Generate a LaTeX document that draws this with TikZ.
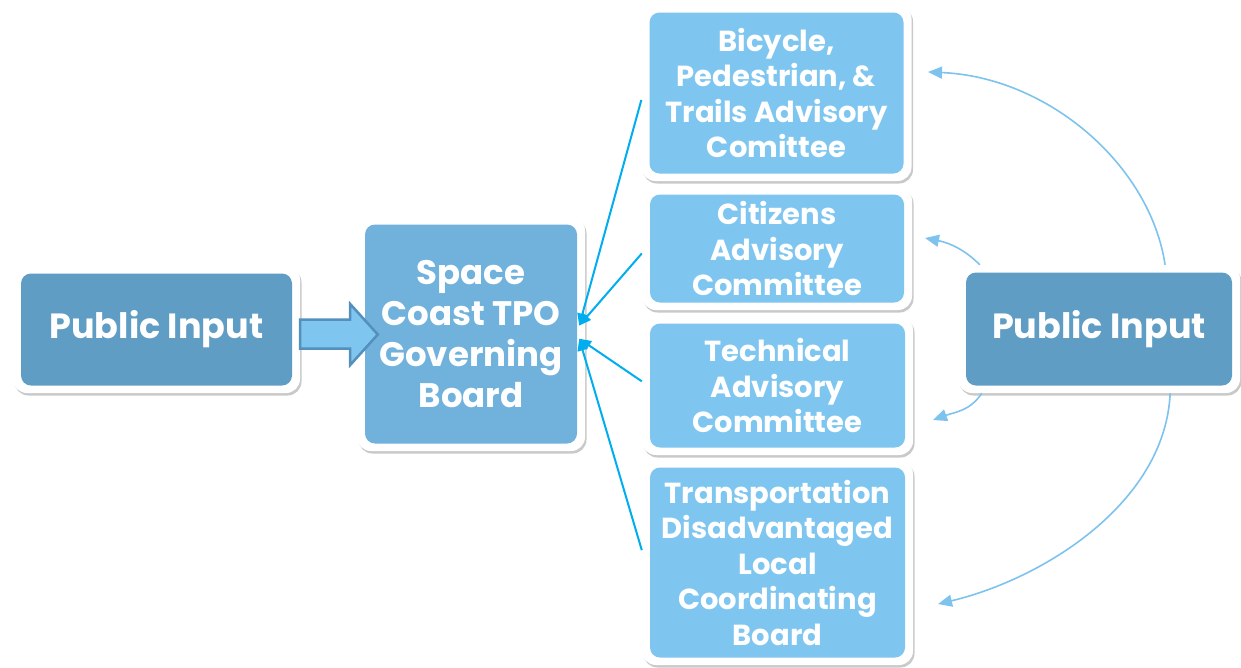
\documentclass[tikz,border=0pt]{standalone}
\usepackage{fontspec}
\setmainfont{Poppins}
\usetikzlibrary{shadows,calc,arrows.meta}
\definecolor{pubfill}{RGB}{96,157,196}
\definecolor{govfill}{RGB}{113,178,220}
\definecolor{comfill}{RGB}{126,198,240}
\definecolor{cyanline}{RGB}{0,174,239}
\definecolor{curvecol}{RGB}{125,195,238}
\definecolor{arrowborder}{RGB}{84,144,188}
\tikzset{
  boxbase/.style={draw=none, fill=white, rounded corners=14pt, inner sep=0pt,
    align=center, text=white, font=\bfseries,
    drop shadow={shadow xshift=1.5pt, shadow yshift=-2.5pt, opacity=0.3, fill=black!70},
    path picture={\fill[#1, rounded corners=10pt]
      ([xshift=8pt,yshift=-7.5pt]path picture bounding box.north west) rectangle
      ([xshift=-8pt,yshift=7.5pt]path picture bounding box.south east);}},
  pubbox/.style={boxbase=pubfill, font=\bfseries\fontsize{35}{40}\selectfont},
  govbox/.style={boxbase=govfill, font=\bfseries\fontsize{34}{41}\selectfont},
  combox/.style={boxbase=comfill, font=\bfseries\fontsize{29}{35.5}\selectfont},
  conn/.style={draw=cyanline, line width=2pt, -{Triangle[length=12pt,width=10pt]}},
  curve/.style={draw=curvecol, line width=1.6pt, -{Triangle[length=14pt,width=12pt]}},
  bigarrow/.style={fill=comfill, draw=arrowborder, line width=2.5pt, line join=miter}
}
\begin{document}
\begin{tikzpicture}[x=1pt,y=-1pt]
\useasboundingbox (0,0) rectangle (1241,667);
\node[pubbox, minimum width=287pt, minimum height=127pt] (pl) at (156.5,329.5) {Public Input};
\node[govbox, minimum width=228pt, minimum height=234pt] (gb) at (471,334) {Space\\Coast TPO\\Governing\\Board};
\node[combox, minimum width=270pt, minimum height=176pt] (b1) at (776.5,93) {Bicycle,\\Pedestrian, \&\\Trails Advisory\\Comittee};
\node[combox, minimum width=270pt, minimum height=123pt] (b2) at (777,248.5) {Citizens\\Advisory\\Committee};
\node[combox, minimum width=271pt, minimum height=139pt] (b3) at (777.5,385.5) {Technical\\Advisory\\Committee};
\node[combox, minimum width=271pt, minimum height=205pt] (b4) at (777.5,562.5) {Transportation\\Disadvantaged\\Local\\Coordinating\\Board};
\node[pubbox, minimum width=282pt, minimum height=128pt] (pr) at (1099,329) {Public Input};
% big arrow
\draw[bigarrow] ($(pl.east)+(0,-10)$) -- ($(pl.east)+(50,-10)$) -- ($(pl.east)+(50,-25.5)$)
  -- ($(gb.west)+(21,0.5)$) -- ($(pl.east)+(50,35.5)$) -- ($(pl.east)+(50,19)$) -- ($(pl.east)+(0,19)$) -- cycle;
% connectors
\coordinate (tu) at ($(gb.north east)!0.464!(gb.south east)+(-6,0)$);
\coordinate (tl) at ($(gb.north east)!0.52!(gb.south east)+(-6,0)$);
\draw[conn] ($(b1.north west)!0.54!(b1.south west)$) -- (tu);
\draw[conn] ($(b2.north west)!0.54!(b2.south west)$) -- (tu);
\draw[conn] ($(b3.north west)!0.47!(b3.south west)$) -- (tl);
\draw[conn] ($(b4.north west)!0.44!(b4.south west)$) -- (tl);
% curved arrows
\coordinate (t1) at (928,72);
\coordinate (t2) at (925,238);
\coordinate (t3) at (933,420);
\coordinate (t4) at (938,604);
\draw[curve] ($(pr.north west)!0.734!(pr.north east)$) .. controls +(-15,-100) and +(120,5) .. (t1);
\draw[curve] ($(pr.north west)!0.078!(pr.north east)$) .. controls +(-15,-15) and +(25,5) .. (t2);
\draw[curve] ($(pr.south west)!0.085!(pr.south east)$) .. controls +(-12,18) and +(22,-8) .. (t3);
\draw[curve] ($(pr.south west)!0.752!(pr.south east)$) .. controls +(-5,110) and +(105,-25) .. (t4);
\end{tikzpicture}
\end{document}
